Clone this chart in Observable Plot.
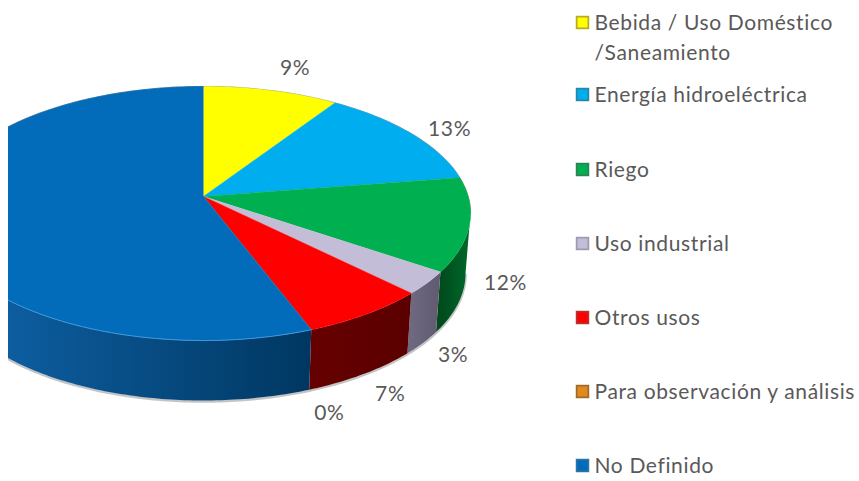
<!DOCTYPE html>
<html>
<head>
<meta charset="utf-8">
<script src="https://cdn.jsdelivr.net/npm/d3@7"></script>
<script src="https://cdn.jsdelivr.net/npm/@observablehq/plot@0.6"></script>
<style>
html,body{margin:0;padding:0;background:#fff}
svg{display:block}
</style>
</head>
<body>
<div id="chart"></div>
<script>
// Data
const categories = ["Bebida / Uso Doméstico\n/Saneamiento","Energía hidroeléctrica","Riego","Uso industrial","Otros usos","Para observación y análisis","No Definido"];
const shares = [9,13,12,3,7,0,56];
const faceColors = ["#ffff00","#00aeef","#00b050","#c4bdd7","#ff0000","#e08a20","#026cba"];
const rimNear = ["#8a8a00","#005a7a","#006a2c","#5f5a70","#5a0000","#7a4a10","#003761"];
const rimFar  = ["#8a8a00","#005a7a","#004a1c","#6e6880","#660000","#7a4a10","#1066ae"];
const swatchEdges = ["#b8ac20","#2a86a8","#2a8650","#9e9ab4","#b83030","#a06a28","#2a72a8"];
const labelled = [0,1,2,3,4,5];

// Layout of the tilted disc
const apex = {x:203,y:196}, face = {x:203,y:213,rx:267,ry:127}, low = {x:203,y:273,rx:262,ry:127};
const tilt = 0.905;
const labelNudge = [[24,-22],[38,-5],[36,58],[26,72],[24,80],[18,84]];
const legendRows = [22,94,169,243,317,391,465];
const swatchX = 582, legendTextX = 594, font = 21;

const rad = Math.PI/180;
const ang = p => 2*Math.atan2(tilt*Math.sin(p*rad/2), Math.cos(p*rad/2));
const at = (e,t) => ({x:e.x+e.rx*Math.sin(t), y:e.y-e.ry*Math.cos(t)});
const cum = d3.cumsum(shares);
const spans = shares.map((s,i)=>[(cum[i]-s)*3.6, cum[i]*3.6]);

const wedges = [], rims = [], labels = [], gradients = [];
shares.forEach((s,i)=>{
  const [a,b] = spans[i];
  if (s>0){
    wedges.push({...apex,z:i,c:faceColors[i]});
    const n = Math.max(2,Math.ceil(b-a));
    d3.range(n+1).forEach(k=>wedges.push({...at(face,ang(a+(b-a)*k/n)),z:i,c:faceColors[i]}));
  }
  const t0 = Math.max(ang(a),Math.PI/2), t1 = Math.min(ang(b),3*Math.PI/2);
  if (s>0 && t1>t0){
    const n = Math.max(2,Math.ceil((t1-t0)/rad));
    const c = `url(#rim${i})`;
    const ts = d3.range(n+1).map(k=>t0+(t1-t0)*k/n);
    ts.forEach(t=>rims.push({...at(face,t),z:i,c}));
    ts.slice().reverse().forEach(t=>rims.push({...at(low,t),z:i,c}));
    gradients.push({id:`rim${i}`,x1:at(face,t0).x,x2:at(face,t1).x,near:rimNear[i],far:rimFar[i]});
  }
  if (labelled.includes(i)){
    const p = at(face,ang((a+b)/2));
    labels.push({x:p.x+labelNudge[i][0],y:p.y+labelNudge[i][1],text:s+"%"});
  }
});
const ellipseArc = (e,p0,p1,n)=>d3.range(n+1).map(k=>at(e,(p0+(p1-p0)*k/n)*rad));
const backEdge = ellipseArc(face,-90,90,180);
const shadow = ellipseArc({...low,y:low.y+1},90,270,180);
const frontGlow = ellipseArc(face,ang(spans[6][0])/rad,270,90);
const legend = categories.map((name,i)=>({name,y:legendRows[i],c:faceColors[i],e:swatchEdges[i]}));

const gradientDefs = (index,{x}) => {
  const defs = d3.create("svg:defs");
  gradients.forEach(g=>{
    const lg = defs.append("linearGradient").attr("id",g.id).attr("gradientUnits","userSpaceOnUse")
      .attr("x1",x(g.x1)).attr("x2",x(g.x2)).attr("y1",0).attr("y2",0);
    lg.append("stop").attr("offset",0).attr("stop-color",g.near);
    lg.append("stop").attr("offset",1).attr("stop-color",g.far);
  });
  return defs.node();
};

document.getElementById("chart").append(Plot.plot({
  width:859,height:481,marginLeft:8,marginRight:0,marginTop:0,marginBottom:0,
  x:{domain:[8,859],axis:null},y:{domain:[0,481],range:[0,481],axis:null},
  color:{type:"identity"},
  style:{background:"#fff",fontFamily:"Lato",letterSpacing:"0.63px"},
  marks:[
    gradientDefs,
    Plot.line(shadow,{x:"x",y:"y",stroke:"#8a8a8a",strokeWidth:2.5,strokeOpacity:.5,clip:"frame"}),
    Plot.line(rims,{x:"x",y:"y",z:"z",fill:"c",clip:"frame"}),
    Plot.line(backEdge,{x:"x",y:"y",stroke:"#9a9a9a",strokeWidth:1.2,clip:"frame"}),
    Plot.line(wedges,{x:"x",y:"y",z:"z",fill:"c",stroke:"c",strokeWidth:.5,clip:"frame"}),
    Plot.line(frontGlow,{x:"x",y:"y",stroke:"#3f97dc",strokeWidth:1,clip:"frame"}),
    Plot.text(labels,{x:"x",y:"y",text:"text",fontSize:font,fill:"#595959"}),
    Plot.dot(legend,{x:()=>swatchX,y:"y",symbol:"square",r:7.6,fill:"e"}),
    Plot.dot(legend,{x:()=>swatchX,y:"y",symbol:"square",r:5.6,fill:"c"}),
    Plot.text(legend,{x:()=>legendTextX,y:"y",text:"name",textAnchor:"start",lineAnchor:"top",dy:-14,lineHeight:1.43,fontSize:font,fill:"#595959"})
  ]
}));
</script>
</body>
</html>
